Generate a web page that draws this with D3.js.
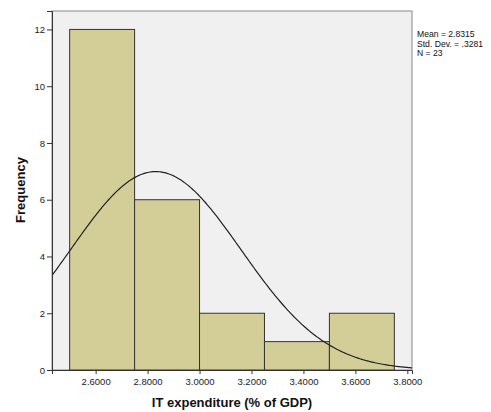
<!DOCTYPE html>
<html lang="en">
<head>
  <meta charset="UTF-8">
  <title>IT expenditure histogram</title>
  <style>
    body {
      margin: 0;
      background: #fff;
      font-family: "Liberation Sans", Arial, sans-serif;
    }
    svg { display: block; }
    .tick text { font-size: 9.5px; fill: #222; }
  </style>
</head>
<body>
  <div id="chart"></div>

  <script src="https://d3js.org/d3.v7.min.js"></script>
  <script>
    // Histogram bins (lower edge, upper edge) and counts
    const binStarts = [2.5, 2.75, 3.0, 3.25, 3.5];
    const binEnds = [2.75, 3.0, 3.25, 3.5, 3.75];
    const counts = [12, 6, 2, 1, 2];

    // Summary stats shown in the legend
    const mean = 2.8315;
    const stdDev = 0.3281;
    const n = 23;
    const statLines = ["Mean = 2.8315", "Std. Dev. = .3281", "N = 23"];

    const xTicks = [2.6, 2.8, 3.0, 3.2, 3.4, 3.6, 3.8];
    const yTicks = [0, 2, 4, 6, 8, 10, 12];

    const W = 491, H = 412;
    const margin = { top: 11, right: 79, bottom: 42, left: 52 };
    const width = W - margin.left - margin.right,
          height = H - margin.top - margin.bottom;

    const xScale = d3.scaleLinear().domain([2.432, 3.818]).range([0, width]);
    const yScale = d3.scaleLinear().domain([0, 12.65]).range([height, 0]);

    const svg = d3.select("#chart").append("svg")
      .attr("width", W)
      .attr("height", H);

    const g = svg.append("g")
      .attr("transform", `translate(${margin.left},${margin.top})`);

    // plot background
    g.append("rect")
      .attr("width", width)
      .attr("height", height)
      .attr("fill", "#f0f0f0")
      .attr("stroke", "#888")
      .attr("stroke-width", 1);

    g.append("clipPath").attr("id", "plot-clip")
      .append("rect").attr("width", width).attr("height", height);

    // bars
    const bins = counts.map((c, i) => ({ x0: binStarts[i], x1: binEnds[i], count: c }));
    g.selectAll(".bar")
      .data(bins)
      .enter()
      .append("rect")
      .attr("class", "bar")
      .attr("x", d => xScale(d.x0))
      .attr("width", d => xScale(d.x1) - xScale(d.x0))
      .attr("y", d => yScale(d.count))
      .attr("height", d => yScale(0) - yScale(d.count))
      .attr("fill", "#d3ce97")
      .attr("stroke", "#333")
      .attr("stroke-width", 1);

    // normal curve scaled to counts
    const binWidth = 0.25;
    const normal = x => n * binWidth * Math.exp(-0.5 * ((x - mean) / stdDev) ** 2) / (stdDev * Math.sqrt(2 * Math.PI));
    const curvePts = d3.range(2.40, 3.85, 0.005).map(x => [x, normal(x)]);
    g.append("path")
      .datum(curvePts)
      .attr("clip-path", "url(#plot-clip)")
      .attr("fill", "none")
      .attr("stroke", "#222")
      .attr("stroke-width", 1.2)
      .attr("d", d3.line().x(d => xScale(d[0])).y(d => yScale(d[1])));

    // axes
    const xAxis = g.append("g")
      .attr("transform", `translate(0,${height})`)
      .call(d3.axisBottom(xScale).tickValues(xTicks).tickFormat(d3.format(".4f")).tickSize(4).tickPadding(4));
    const yAxis = g.append("g")
      .call(d3.axisLeft(yScale).tickValues(yTicks).tickFormat(d3.format("d")).tickSize(5).tickPadding(2));

    [xAxis, yAxis].forEach(ax => {
      ax.select(".domain").attr("stroke", "#333");
      ax.selectAll(".tick line").attr("stroke", "#333");
      ax.selectAll(".tick text").style("font-family", "'Liberation Sans', Arial, sans-serif");
    });

    // axis titles
    svg.append("text")
      .attr("x", margin.left + width / 2)
      .attr("y", 407)
      .attr("text-anchor", "middle")
      .style("font-size", "13px")
      .style("font-weight", "bold")
      .attr("fill", "#111")
      .text("IT expenditure (% of GDP)");

    svg.append("text")
      .attr("transform", "translate(25,190) rotate(-90)")
      .attr("text-anchor", "middle")
      .style("font-size", "13px")
      .style("font-weight", "bold")
      .attr("fill", "#111")
      .text("Frequency");

    // stats legend
    svg.append("g")
      .selectAll("text")
      .data(statLines)
      .enter()
      .append("text")
      .attr("x", 417)
      .attr("y", (d, i) => 37 + i * 9.5)
      .style("font-size", "8.6px")
      .attr("fill", "#111")
      .text(d => d);
  </script>
</body>
</html>
